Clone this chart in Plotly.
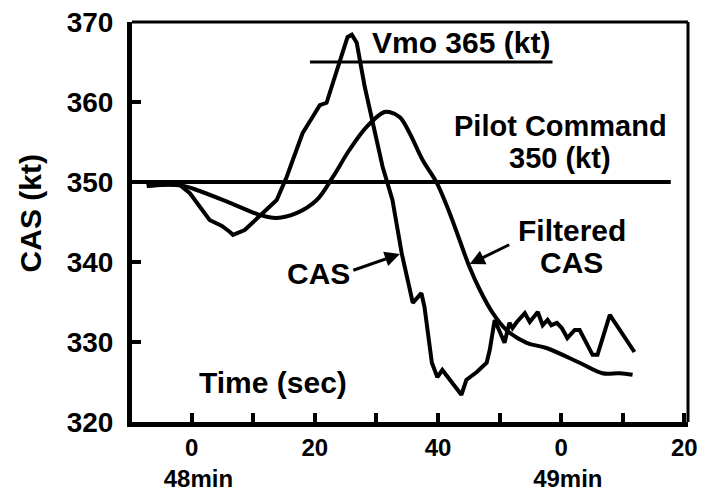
import plotly.graph_objects as go

# Raw CAS trace (time in s after 48 min, speed in kt)
cas_t = [-7.3, -4.4, -1.9, -0.3, 2.9, 4.9, 6.2, 6.7, 8.6, 9.9, 11.5, 13.8, 15.4,
         18.0, 19.6, 20.8, 21.9, 23.7, 25.3, 26.0, 26.8, 28.1, 29.7, 31.0, 32.6,
         34.1, 35.9, 37.3, 37.8, 39.0, 39.9, 40.7, 43.8, 44.6, 46.3, 47.9, 48.4,
         49.2, 50.8, 51.6, 52.1, 52.8, 54.1, 54.9, 56.2, 57.0, 57.8, 58.4, 59.3,
         60.1, 61.0, 62.2, 63.0, 65.1, 65.9, 67.9, 71.9]
cas_v = [349.5, 349.75, 349.6, 348.6, 345.25, 344.5, 343.75, 343.4, 344.0, 344.9,
         346.1, 347.75, 350.6, 356.1, 358.1, 359.6, 359.9, 364.4, 368.1, 368.4,
         367.4, 361.9, 356.5, 351.9, 347.75, 341.1, 334.9, 336.1, 334.4, 327.4,
         325.6, 326.5, 323.4, 325.25, 326.25, 327.4, 329.0, 332.75, 329.9, 332.4,
         331.75, 332.5, 333.6, 332.5, 333.75, 332.1, 332.75, 332.1, 332.4, 331.75,
         330.5, 331.5, 331.5, 328.4, 328.4, 333.4, 328.75]

# Filtered CAS trace
flt_t = [-7.3, -1.9, 0.8, 6.2, 11.0, 13.8, 17.0, 20.3, 22.9, 25.6, 28.4, 31.3,
         32.1, 33.8, 35.4, 37.5, 39.8, 41.9, 43.5, 45.1, 46.8, 48.9, 51.1, 54.4,
         57.6, 63.0, 66.7, 69.5, 71.6]
flt_v = [349.5, 349.6, 349.0, 347.4, 345.9, 345.5, 346.1, 347.75, 350.6, 354.0,
         356.9, 358.75, 358.75, 358.1, 356.1, 352.75, 349.9, 346.1, 342.75, 339.4,
         336.5, 333.6, 331.5, 329.9, 329.25, 327.4, 326.1, 326.1, 325.9]

# Reference speeds and the time spans their lines cover
VMO = 365
VMO_SPAN = [19.2, 58.6]
PILOT_CMD = 350
PILOT_SPAN = [-9.7, 77.8]

# Axis ticks: seconds wrap at the minute mark
NB = "\u00a0\u00a0"
x_tickvals = [0, 10, 20, 30, 40, 50, 60, 70, 80]
x_ticktext = ["0<br>" + NB + "48min", "", "20", "", "40", "",
              "0<br>" + NB + "49min", "", "20"]
y_tickvals = [320, 330, 340, 350, 360, 370]

FONT = "Liberation Sans, Arial, sans-serif"
FS = 30

fig = go.Figure()
fig.add_trace(go.Scatter(x=cas_t, y=cas_v, mode="lines",
                         line=dict(color="black", width=4), name="CAS"))
fig.add_trace(go.Scatter(x=flt_t, y=flt_v, mode="lines",
                         line=dict(color="black", width=4, shape="spline"),
                         name="Filtered CAS"))

# Vmo and pilot command reference lines
fig.add_shape(type="line", x0=VMO_SPAN[0], x1=VMO_SPAN[1], y0=VMO, y1=VMO,
              line=dict(color="black", width=3))
fig.add_shape(type="line", x0=PILOT_SPAN[0], x1=PILOT_SPAN[1], y0=PILOT_CMD,
              y1=PILOT_CMD, line=dict(color="black", width=4))

# Top and right frame
fig.add_shape(type="line", xref="paper", yref="paper", x0=0, x1=1, y0=1, y1=1,
              line=dict(color="black", width=3))
fig.add_shape(type="line", xref="paper", yref="paper", x0=1, x1=1, y0=0, y1=1,
              line=dict(color="black", width=3))


def label(text, x, y, **kw):
    fig.add_annotation(text=text, x=x, y=y, showarrow=False,
                       xanchor="center", yanchor="middle",
                       font=dict(family=FONT, size=kw.pop("size", FS),
                                 color="black", weight="bold"), **kw)


label("Vmo 365 (kt)", 43.7, 367.4)
label("Pilot Command", 59.9, 357.0, size=29, borderpad=0)
label("350 (kt)", 59.8, 353.0, size=29, borderpad=0)
label("Filtered", 61.7, 344.0)
label("CAS", 61.7, 340.0)
label("CAS", 20.6, 338.6)
label("Time (sec)", 13.2, 325.0)
label("CAS (kt)", -0.183, 346.1, xref="paper", textangle=-90)

# Pointer arrows to the two traces
for (tx, ty, hx, hy) in [(26.0, 338.9, 33.8, 341.0), (51.8, 342.25, 45.15, 339.75)]:
    fig.add_annotation(x=hx, y=hy, ax=tx, ay=ty, axref="x", ayref="y",
                       text="", showarrow=True, arrowhead=2, arrowsize=1.0,
                       arrowwidth=3, arrowcolor="black")

fig.update_layout(
    width=710, height=494,
    margin=dict(l=132, r=22, t=22, b=72),
    paper_bgcolor="white", plot_bgcolor="white",
    showlegend=False,
    font=dict(family=FONT, size=FS, color="black"),
)
fig.update_xaxes(range=[-9.7, 80.6], tickmode="array", tickvals=x_tickvals,
                 ticktext=x_ticktext, ticks="inside", ticklen=9, tickwidth=4,
                 tickcolor="black", showline=True, linewidth=5, linecolor="black",
                 showgrid=False, zeroline=False, ticklabelstandoff=0,
                 automargin=False,
                 tickfont=dict(family=FONT, size=24, color="black",
                               weight="bold"))
fig.update_yaxes(range=[320, 370], tickmode="array", tickvals=y_tickvals,
                 ticks="inside", ticklen=9, tickwidth=4, tickcolor="black",
                 showline=True, linewidth=5, linecolor="black",
                 showgrid=False, zeroline=False, ticklabelstandoff=8,
                 automargin=False,
                 tickfont=dict(family=FONT, size=28, color="black",
                               weight="bold"))

fig.write_html("out.html")
